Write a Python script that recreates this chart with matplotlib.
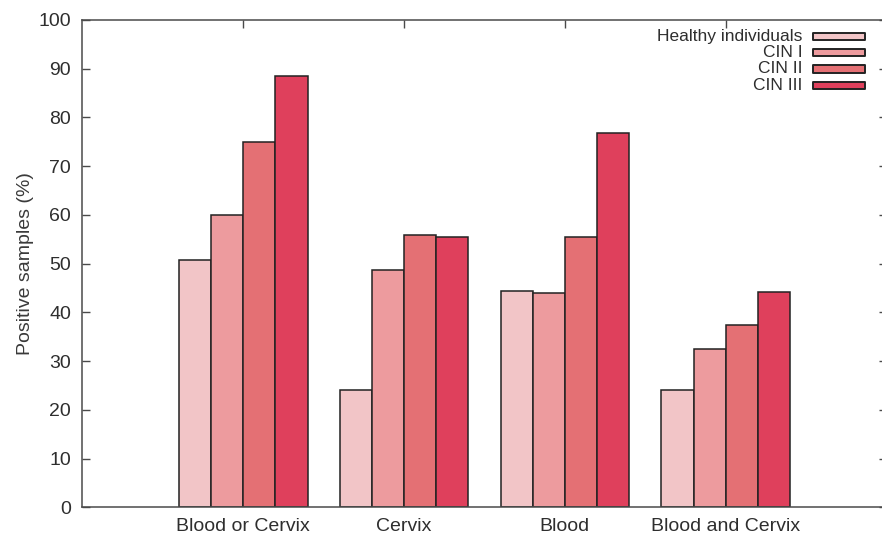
import numpy as np
import matplotlib.pyplot as plt
from matplotlib.patches import Rectangle

plt.rcParams['font.family'] = ['Liberation Sans', 'DejaVu Sans']

categories = ['Blood or Cervix', 'Cervix', 'Blood', 'Blood and Cervix']
groups = ['Healthy individuals', 'CIN I', 'CIN II', 'CIN III']
healthy = [50.7, 24.0, 44.3, 24.0]
cin1 = [59.9, 48.7, 44.0, 32.4]
cin2 = [75.0, 55.9, 55.4, 37.4]
cin3 = [88.6, 55.4, 76.9, 44.2]
values = [healthy, cin1, cin2, cin3]
colors = ['#f2c5c7', '#ed9b9e', '#e47074', '#df405c']

text_col = '#2e2e2e'
axis_col = '#4a4a4a'

fig = plt.figure(figsize=(8.82, 5.38), dpi=100)
ax = fig.add_axes([0.0933, 0.0571, 0.912, 0.9058])

x = np.arange(len(categories))
w = 0.2
for i, vals in enumerate(values):
    ax.bar(x + (i - 1.5) * w, vals, w, color=colors[i], edgecolor='#222222',
           linewidth=1.1, zorder=2)

ax.set_xlim(-1, 4)
ax.set_ylim(0, 100)
ax.set_yticks(np.arange(0, 101, 10))
ax.set_xticks(x)
ax.set_xticklabels(categories)
ax.tick_params(axis='both', direction='in', length=6, width=1, color=axis_col,
               labelsize=14, labelcolor=text_col, pad=8)
ax.tick_params(axis='y', right=True)
ax.tick_params(axis='x', top=True, length=6)
ax.tick_params(axis='x', which='both', bottom=False)
for s in ax.spines.values():
    s.set_color(axis_col)
    s.set_linewidth(1.1)

ax.set_ylabel('Positive samples (%)', fontsize=14, color='#3a3a3a', labelpad=3)

# legend drawn by hand, gnuplot style (text on left, key on right)
ty = 0.9666
for i, g in enumerate(groups):
    yy = ty - i * 0.0336
    ax.text(0.895, yy, g, transform=ax.transAxes, ha='right', va='center',
            fontsize=12.5, color=text_col)
    ax.add_patch(Rectangle((0.9088, yy - 0.0075), 0.0646, 0.015,
                           transform=ax.transAxes, facecolor=colors[i],
                           edgecolor='#222222', linewidth=1.4,
                           joinstyle='round', clip_on=False))

fig.savefig('out.png', dpi=100)
